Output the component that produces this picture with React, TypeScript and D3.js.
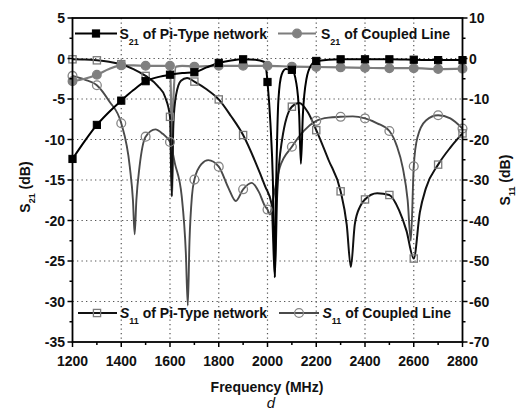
import React from 'react';
import * as d3 from 'd3';

const W = 516;
const H = 412;

// Frequency axis (MHz)
const freqMajor = [1200, 1400, 1600, 1800, 2000, 2200, 2400, 2600, 2800];
const freqMinor = [1300, 1500, 1700, 1900, 2100, 2300, 2500, 2700];
const freqGrid = [1400, 1600, 1800, 2000, 2200, 2400, 2600];

// Left axis: S21 (dB)
const s21Major = [5, 0, -5, -10, -15, -20, -25, -30, -35];
const s21Minor = [2.5, -2.5, -7.5, -12.5, -17.5, -22.5, -27.5, -32.5];
const s21Grid = [0, -5, -10, -15, -20, -25, -30];

// Right axis: S11 (dB)
const s11Major = [10, 0, -10, -20, -30, -40, -50, -60, -70];
const s11Minor = [5, -5, -15, -25, -35, -45, -55, -65];

// S21 of Pi-Type network
const s21PiFreq = [1200, 1250, 1300, 1350, 1400, 1450, 1500, 1550, 1600, 1650, 1700, 1750, 1800, 1850, 1900, 1950, 1985, 1995, 2000, 2012, 2022, 2030, 2036, 2045, 2058, 2075, 2100, 2118, 2130, 2137, 2145, 2160, 2180, 2200, 2300, 2400, 2500, 2600, 2700, 2800];
const s21PiDb = [-12.4, -10.2, -8.2, -6.6, -5.2, -3.9, -2.8, -2.3, -2.0, -1.8, -1.7, -1.1, -0.55, -0.25, -0.1, -0.15, -0.4, -1.4, -2.9, -8, -15, -27, -15, -5, -2, -1.3, -1.4, -3, -7, -13, -7, -2.5, -0.8, -0.3, -0.1, -0.1, -0.1, -0.15, -0.2, -0.2];

// S21 of Coupled Line
const s21CplFreq = [1200, 1250, 1300, 1350, 1400, 1450, 1500, 1550, 1600, 1604, 1608, 1614, 1625, 1650, 1700, 1800, 1900, 2000, 2100, 2200, 2300, 2400, 2500, 2600, 2700, 2800];
const s21CplDb = [-2.8, -2.5, -2.0, -1.3, -0.85, -0.85, -0.9, -0.9, -0.9, -5, -17, -5, -1.0, -0.9, -1.0, -0.9, -0.9, -0.9, -1.0, -1.05, -1.1, -1.15, -1.2, -1.2, -1.3, -1.25];

// S11 of Pi-Type network
const s11PiFreq = [1200, 1250, 1300, 1350, 1400, 1450, 1500, 1550, 1580, 1600, 1607, 1614, 1625, 1645, 1670, 1700, 1750, 1800, 1850, 1900, 1950, 1990, 2017, 2030, 2040, 2060, 2100, 2130, 2165, 2200, 2250, 2300, 2325, 2342, 2358, 2380, 2400, 2450, 2500, 2540, 2570, 2600, 2625, 2650, 2700, 2750, 2800];
const s11PiDb = [-0.2, -0.25, -0.45, -0.8, -1.4, -2.6, -4.3, -6.8, -9.5, -14.4, -34, -16, -9, -5.5, -4.8, -5.7, -7.6, -10.1, -14.2, -18.9, -25.5, -31.5, -36, -54, -33, -20, -11.9, -11.0, -13.2, -17.7, -25, -32.8, -41, -51.5, -41, -36.5, -34.8, -33.3, -33.7, -37.5, -42.5, -49.4, -38, -32, -26.2, -22, -18.5];

// S11 of Coupled Line
const s11CplFreq = [1200, 1250, 1300, 1350, 1400, 1435, 1448, 1455, 1462, 1475, 1500, 1540, 1570, 1600, 1620, 1648, 1665, 1673, 1680, 1690, 1700, 1730, 1757, 1800, 1840, 1870, 1900, 1935, 1965, 1990, 2000, 2010, 2025, 2050, 2100, 2150, 2200, 2250, 2300, 2350, 2400, 2450, 2500, 2530, 2555, 2575, 2588, 2600, 2615, 2650, 2700, 2750, 2800];
const s11CplDb = [-4.3, -5.2, -6.6, -10.5, -16, -26.7, -35, -43.4, -35, -26.7, -19.3, -17.5, -18.6, -20.6, -25.9, -34, -48, -61, -45, -34, -29.9, -26, -25.1, -26.7, -32, -35.2, -32.3, -30.7, -33, -36.5, -37.3, -38.5, -34, -27, -21.8, -17.8, -15.4, -14.6, -14.4, -14.3, -14.8, -16, -17.9, -21.5, -27, -35, -45, -26.6, -19.5, -15.3, -14, -14.8, -17.3];

const FONT = "'Liberation Sans', Arial, Helvetica, sans-serif";

const PL = 72.5;
const PR = 462.5;
const PT = 18;
const PB = 342;

const x = d3.scaleLinear().domain([1200, 2800]).range([PL, PR]);
const yL = d3.scaleLinear().domain([-35, 5]).range([PB, PT]);
const yR = d3.scaleLinear().domain([-70, 10]).range([PB, PT]);

type Pt = [number, number];

function zipPts(f: number[], v: number[]): Pt[] {
  return f.map((fr, i) => [fr, v[i]] as Pt);
}

function pathFor(pts: Pt[], y: d3.ScaleLinear<number, number>) {
  return d3
    .line<Pt>()
    .x((d) => x(d[0]))
    .y((d) => y(d[1]))
    .curve(d3.curveMonotoneX)(pts) as string;
}

const onGrid = (p: Pt) => p[0] % 100 === 0;

const SquareMark = ({ cx, cy, filled }: { cx: number; cy: number; filled: boolean }) => (
  <rect
    x={cx - 3.6}
    y={cy - 3.6}
    width={7.2}
    height={7.2}
    fill={filled ? '#000' : 'none'}
    stroke={filled ? '#000' : '#7a7a7a'}
    strokeWidth={filled ? 1 : 1.3}
  />
);

const CircleMark = ({ cx, cy, filled }: { cx: number; cy: number; filled: boolean }) => (
  <circle
    cx={cx}
    cy={cy}
    r={filled ? 4.3 : 4.4}
    fill={filled ? '#808080' : 'none'}
    stroke={filled ? '#808080' : '#858585'}
    strokeWidth={1.3}
  />
);

export default function App() {
  const s21Pi = zipPts(s21PiFreq, s21PiDb);
  const s21Cpl = zipPts(s21CplFreq, s21CplDb);
  const s11Pi = zipPts(s11PiFreq, s11PiDb);
  const s11Cpl = zipPts(s11CplFreq, s11CplDb);

  const labelStyle = { fontFamily: FONT, fontWeight: 700, fontSize: 14, fill: '#111' } as const;

  return (
    <svg
      width={W}
      height={H}
      viewBox={`0 0 ${W} ${H}`}
      style={{ position: 'absolute', left: 0, top: 0, background: '#fff' }}
    >
      <defs>
        <clipPath id="plotClip">
          <rect x={PL} y={PT} width={PR - PL} height={PB - PT} />
        </clipPath>
      </defs>
      <rect x={0} y={0} width={W} height={H} fill="#fff" />

      {/* dotted grid */}
      <g stroke="#555" strokeWidth={1.2} strokeDasharray="1.3 3.2">
        {freqGrid.map((f) => (
          <line key={'gx' + f} x1={x(f)} x2={x(f)} y1={PT} y2={PB} />
        ))}
        {s21Grid.map((v) => (
          <line key={'gy' + v} x1={PL} x2={PR} y1={yL(v)} y2={yL(v)} />
        ))}
      </g>

      {/* curves */}
      <g clipPath="url(#plotClip)" fill="none" strokeLinejoin="round">
        <path d={pathFor(s11Cpl, yR)} stroke="#4a4a4a" strokeWidth={1.9} />
        <path d={pathFor(s21Cpl, yL)} stroke="#7d7d7d" strokeWidth={2.2} />
        <path d={pathFor(s11Pi, yR)} stroke="#111" strokeWidth={2} />
        <path d={pathFor(s21Pi, yL)} stroke="#000" strokeWidth={2} />
      </g>

      {/* markers */}
      <g>
        {s11Cpl.filter(onGrid).map((p) => (
          <CircleMark key={'m11c' + p[0]} cx={x(p[0])} cy={yR(p[1])} filled={false} />
        ))}
        {s11Pi.filter(onGrid).map((p) => (
          <SquareMark key={'m11p' + p[0]} cx={x(p[0])} cy={yR(p[1])} filled={false} />
        ))}
        {s21Cpl.filter(onGrid).map((p) => (
          <CircleMark key={'m21c' + p[0]} cx={x(p[0])} cy={yL(p[1])} filled={true} />
        ))}
        {s21Pi.filter(onGrid).map((p) => (
          <SquareMark key={'m21p' + p[0]} cx={x(p[0])} cy={yL(p[1])} filled={true} />
        ))}
      </g>

      {/* frame */}
      <rect x={PL} y={PT} width={PR - PL} height={PB - PT} fill="none" stroke="#000" strokeWidth={1.8} />

      {/* axis ticks */}
      <g stroke="#000" strokeWidth={1.5}>
        {freqMajor.map((f) => (
          <line key={'tx' + f} x1={x(f)} x2={x(f)} y1={PB} y2={PB + 5} />
        ))}
        {freqMinor.map((f) => (
          <line key={'tmx' + f} x1={x(f)} x2={x(f)} y1={PB} y2={PB + 3} />
        ))}
        {s21Major.map((v) => (
          <line key={'tl' + v} x1={PL - 5} x2={PL} y1={yL(v)} y2={yL(v)} />
        ))}
        {s21Minor.map((v) => (
          <line key={'tml' + v} x1={PL - 3} x2={PL} y1={yL(v)} y2={yL(v)} />
        ))}
        {s11Major.map((v) => (
          <line key={'tr' + v} x1={PR} x2={PR + 5} y1={yR(v)} y2={yR(v)} />
        ))}
        {s11Minor.map((v) => (
          <line key={'tmr' + v} x1={PR} x2={PR + 3} y1={yR(v)} y2={yR(v)} />
        ))}
      </g>

      {/* tick labels */}
      <g style={labelStyle}>
        {freqMajor.map((f) => (
          <text key={'lx' + f} x={x(f)} y={366} textAnchor="middle">
            {f}
          </text>
        ))}
        {s21Major.map((v) => (
          <text key={'ll' + v} x={65} y={yL(v) + 5} textAnchor="end">
            {v}
          </text>
        ))}
        {s11Major.map((v) => (
          <text key={'lr' + v} x={469} y={yR(v) + 5} textAnchor="start">
            {v}
          </text>
        ))}
      </g>

      {/* axis titles */}
      <text x={267} y={392} textAnchor="middle" style={labelStyle}>
        Frequency (MHz)
      </text>
      <text
        x={271}
        y={407.5}
        textAnchor="middle"
        style={{ fontFamily: FONT, fontStyle: 'italic', fontSize: 15, fill: '#111' }}
      >
        d
      </text>
      <text transform="translate(29.5,187) rotate(-90)" textAnchor="middle" style={labelStyle}>
        <tspan>S</tspan>
        <tspan dy={5} fontSize={9}>21</tspan>
        <tspan dy={-5}> (dB)</tspan>
      </text>
      <text transform="translate(509.5,180) rotate(-90)" textAnchor="middle" style={labelStyle}>
        <tspan>S</tspan>
        <tspan dy={5} fontSize={9}>11</tspan>
        <tspan dy={-5}> (dB)</tspan>
      </text>

      {/* legend: top row */}
      <g>
        <line x1={75} x2={117} y1={33.5} y2={33.5} stroke="#000" strokeWidth={2} />
        <SquareMark cx={96} cy={33.5} filled={true} />
        <text x={119.5} y={38.5} style={labelStyle}>
          <tspan>S</tspan>
          <tspan dy={6} fontSize={9}>21</tspan>
          <tspan dy={-6}> of Pi-Type network</tspan>
        </text>
        <line x1={278} x2={316} y1={33.5} y2={33.5} stroke="#7d7d7d" strokeWidth={2.2} />
        <CircleMark cx={297} cy={33.5} filled={true} />
        <text x={321} y={38.5} style={labelStyle}>
          <tspan>S</tspan>
          <tspan dy={6} fontSize={9}>21</tspan>
          <tspan dy={-6}> of Coupled Line</tspan>
        </text>
      </g>

      {/* legend: bottom row */}
      <g>
        <line x1={78} x2={117} y1={313} y2={313} stroke="#111" strokeWidth={2} />
        <SquareMark cx={97} cy={313} filled={false} />
        <text x={120} y={318} style={labelStyle}>
          <tspan fontStyle="italic">S</tspan>
          <tspan dy={6} fontSize={9}>11</tspan>
          <tspan dy={-6}> of Pi-Type network</tspan>
        </text>
        <line x1={279} x2={319} y1={313} y2={313} stroke="#4a4a4a" strokeWidth={1.9} />
        <CircleMark cx={299} cy={313} filled={false} />
        <text x={322.5} y={318} style={labelStyle}>
          <tspan fontStyle="italic">S</tspan>
          <tspan dy={6} fontSize={9}>11</tspan>
          <tspan dy={-6}> of Coupled Line</tspan>
        </text>
      </g>
    </svg>
  );
}
